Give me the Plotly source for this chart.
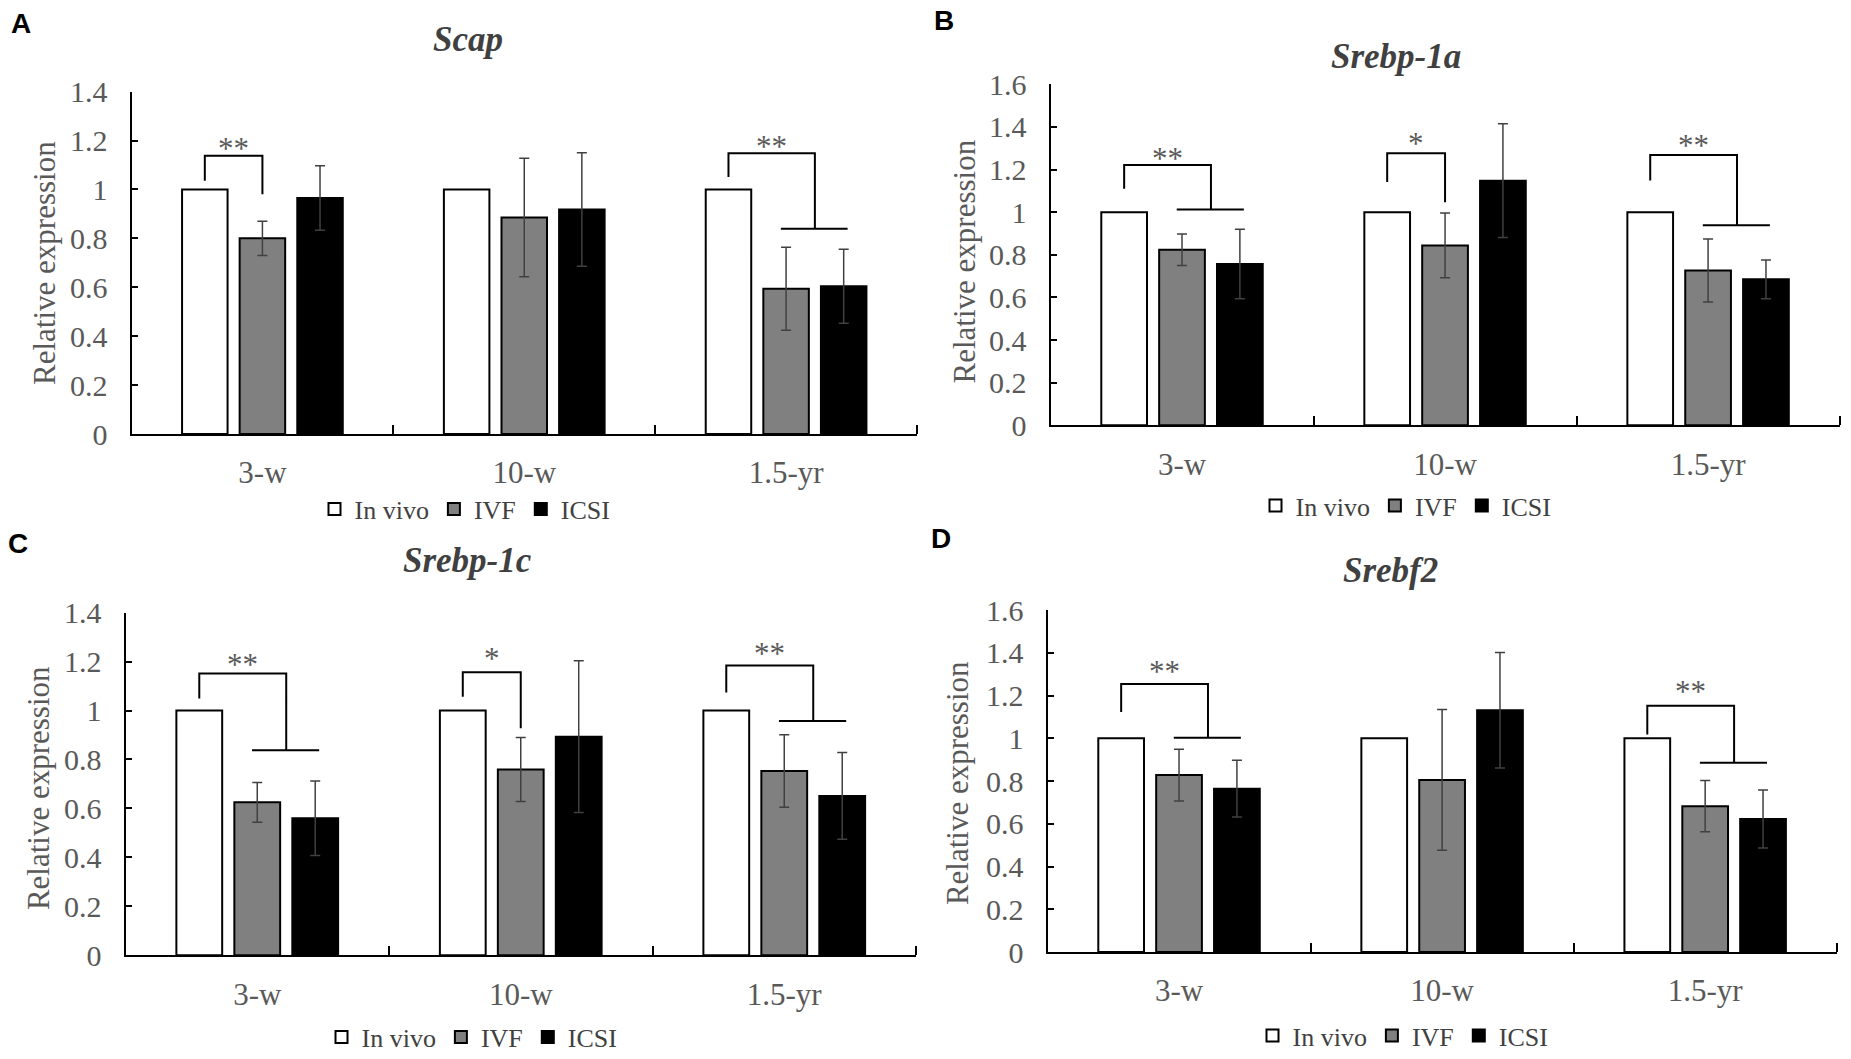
import plotly.graph_objects as go

# ---- data ---------------------------------------------------------------
categories = ["3-w", "10-w", "1.5-yr"]
groups = ["In vivo", "IVF", "ICSI"]

ticks_14 = [0, 0.2, 0.4, 0.6, 0.8, 1, 1.2, 1.4]
ticks_16 = [0, 0.2, 0.4, 0.6, 0.8, 1, 1.2, 1.4, 1.6]

# A: Scap
scap_in_vivo = [1, 1, 1]
scap_ivf = [0.80, 0.885, 0.594]
scap_ivf_err = [0.07, 0.242, 0.17]
scap_icsi = [0.965, 0.918, 0.604]
scap_icsi_err = [0.132, 0.232, 0.151]

# B: Srebp-1a
srebp1a_in_vivo = [1, 1, 1]
srebp1a_ivf = [0.824, 0.844, 0.726]
srebp1a_ivf_err = [0.074, 0.152, 0.148]
srebp1a_icsi = [0.757, 1.148, 0.685]
srebp1a_icsi_err = [0.163, 0.267, 0.091]

# C: Srebp-1c
srebp1c_in_vivo = [1, 1, 1]
srebp1c_ivf = [0.625, 0.759, 0.753]
srebp1c_ivf_err = [0.081, 0.131, 0.148]
srebp1c_icsi = [0.56, 0.893, 0.651]
srebp1c_icsi_err = [0.152, 0.31, 0.177]

# D: Srebf2
srebf2_in_vivo = [1, 1, 1]
srebf2_ivf = [0.828, 0.805, 0.682]
srebf2_ivf_err = [0.121, 0.329, 0.12]
srebf2_icsi = [0.764, 1.131, 0.622]
srebf2_icsi_err = [0.133, 0.27, 0.136]

# significance brackets: (category, label, label y, top, left leg end, right leg end, compared to)
scap_sig = [(0, "**", 1.196, 1.138, 1.035, 0.98, "IVF"),
            (2, "**", 1.203, 1.148, 1.051, 0.839, "IVF+ICSI")]
srebp1a_sig = [(0, "**", 1.284, 1.221, 1.110, 1.012, "IVF+ICSI"),
               (1, "*", 1.355, 1.276, 1.142, 1.047, "IVF"),
               (2, "**", 1.347, 1.268, 1.149, 0.939, "IVF+ICSI")]
srebp1c_sig = [(0, "**", 1.217, 1.151, 1.049, 0.838, "IVF+ICSI"),
               (1, "*", 1.242, 1.156, 1.056, 0.928, "IVF"),
               (2, "**", 1.262, 1.184, 1.074, 0.957, "IVF+ICSI")]
srebf2_sig = [(0, "**", 1.344, 1.254, 1.123, 1.002, "IVF+ICSI"),
              (2, "**", 1.25, 1.152, 1.018, 0.885, "IVF+ICSI")]

# ---- figure layout --------------------------------------------------------
W, H = 1851, 1059
SERIF = "Liberation Serif"
SANS = "Liberation Sans"
TEXT_GREY = "#595959"
BARGAP = 0.34
SLOT = (1 - BARGAP) / 3
FILLS = ["white", "#808080", "black"]


def px(x):
    return x / W


def py(y):
    return 1 - y / H


panels = [
    dict(letter="A", gene="Scap", ticks=ticks_14,
         means=[scap_in_vivo, scap_ivf, scap_icsi],
         errs=[None, scap_ivf_err, scap_icsi_err], sig=scap_sig,
         box=(131.5, 917, 91.6, 434), letter_xy=(21, 24), title_xy=(468, 40),
         ytitle_xy=(44, 263), legend_xy=(465, 509)),
    dict(letter="B", gene="Srebp-1a", ticks=ticks_16,
         means=[srebp1a_in_vivo, srebp1a_ivf, srebp1a_icsi],
         errs=[None, srebp1a_ivf_err, srebp1a_icsi_err], sig=srebp1a_sig,
         box=(1050.5, 1839.6, 84.3, 425.3), letter_xy=(944, 20), title_xy=(1396, 57),
         ytitle_xy=(963.5, 262), legend_xy=(1406, 505.5)),
    dict(letter="C", gene="Srebp-1c", ticks=ticks_14,
         means=[srebp1c_in_vivo, srebp1c_ivf, srebp1c_icsi],
         errs=[None, srebp1c_ivf_err, srebp1c_icsi_err], sig=srebp1c_sig,
         box=(125.5, 916, 612.6, 955.3), letter_xy=(18, 543), title_xy=(468, 560),
         ytitle_xy=(38.5, 788.6), legend_xy=(472, 1037)),
    dict(letter="D", gene="Srebf2", ticks=ticks_16,
         means=[srebf2_in_vivo, srebf2_ivf, srebf2_icsi],
         errs=[None, srebf2_ivf_err, srebf2_icsi_err], sig=srebf2_sig,
         box=(1047.5, 1836.7, 610, 952), letter_xy=(941, 538), title_xy=(1390, 570),
         ytitle_xy=(957.6, 783.5), legend_xy=(1403, 1035.5)),
]

fig = go.Figure()
layout = dict(
    width=W, height=H, margin=dict(l=0, r=0, t=0, b=0, pad=0, autoexpand=False),
    paper_bgcolor="white", plot_bgcolor="white",
    barmode="group", bargap=BARGAP, bargroupgap=0.21,
    annotations=[], shapes=[],
)

for i, p in enumerate(panels):
    n = "" if i == 0 else str(i + 1)
    xref, yref = "x" + n, "y" + n
    legend_name = "legend" + n
    x0, x1, y0, y1 = p["box"]

    for g, name in enumerate(groups):
        err = p["errs"][g]
        fig.add_bar(
            x=[0, 1, 2], y=p["means"][g], name=name,
            xaxis=xref, yaxis=yref, legend=legend_name,
            marker=dict(color=FILLS[g], line=dict(color="black", width=2)),
            error_y=(dict(type="data", array=err, color="#404040", thickness=1.5, width=5)
                     if err is not None else dict(visible=False)),
        )

    layout["xaxis" + n] = dict(
        domain=[px(x0), px(x1)], anchor=yref, range=[-0.5, 2.5], automargin=False,
        tickmode="array", tickvals=[0, 1, 2], ticktext=categories, ticks="",
        showline=True, linecolor="black", linewidth=2, showgrid=False, zeroline=False,
        tickfont=dict(family=SERIF, size=31, color=TEXT_GREY), ticklabelstandoff=10,
        minor=dict(tickmode="array", tickvals=[0.5, 1.5, 2.5], ticks="inside",
                   ticklen=9, tickwidth=2, tickcolor="black", showgrid=False),
    )
    layout["yaxis" + n] = dict(
        domain=[py(y1), py(y0)], anchor=xref, range=[0, p["ticks"][-1]], automargin=False,
        tickmode="array", tickvals=p["ticks"], ticktext=[f"{v:g}" for v in p["ticks"]],
        ticks="inside", ticklen=6, tickwidth=2, tickcolor="black",
        showline=True, linecolor="black", linewidth=2, showgrid=False, zeroline=False,
        tickfont=dict(family=SERIF, size=30, color=TEXT_GREY), ticklabelstandoff=16,
    )
    layout[legend_name] = dict(
        orientation="h", x=px(p["legend_xy"][0]), y=py(p["legend_xy"][1]),
        xanchor="center", yanchor="middle", itemwidth=30, traceorder="normal",
        font=dict(family=SERIF, size=26, color="#404040"), bgcolor="rgba(0,0,0,0)",
    )

    # texts
    layout["annotations"] += [
        dict(text="<b>" + p["letter"] + "</b>", xref="paper", yref="paper",
             x=px(p["letter_xy"][0]), y=py(p["letter_xy"][1]),
             xanchor="center", yanchor="middle", showarrow=False,
             font=dict(family=SANS, size=28, color="black")),
        dict(text="<b><i>" + p["gene"] + "</i></b>", xref="paper", yref="paper",
             x=px(p["title_xy"][0]), y=py(p["title_xy"][1]),
             xanchor="center", yanchor="middle", showarrow=False,
             font=dict(family=SERIF, size=35, color="#404040")),
        dict(text="Relative expression", xref="paper", yref="paper", textangle=-90,
             x=px(p["ytitle_xy"][0]), y=py(p["ytitle_xy"][1]),
             xanchor="center", yanchor="middle", showarrow=False,
             font=dict(family=SERIF, size=31, color=TEXT_GREY)),
    ]

    # significance brackets
    for cat, label, label_y, top, left_end, right_end, target in p["sig"]:
        left = cat - SLOT
        right = cat if target == "IVF" else cat + SLOT / 2
        layout["shapes"].append(dict(
            type="path", xref=xref, yref=yref,
            path=f"M {left},{left_end} L {left},{top} L {right},{top} L {right},{right_end}",
            line=dict(color="black", width=2),
        ))
        if target != "IVF":
            layout["shapes"].append(dict(
                type="line", xref=xref, yref=yref,
                x0=cat - 0.02, x1=cat + SLOT + 0.015, y0=right_end, y1=right_end,
                line=dict(color="black", width=2),
            ))
        layout["annotations"].append(dict(
            text=label, xref=xref, yref=yref, x=(left + right) / 2, y=label_y,
            xanchor="center", yanchor="middle", yshift=-7, showarrow=False,
            font=dict(family=SERIF, size=31, color=TEXT_GREY),
        ))

fig.update_layout(**layout)
# the page's default 8px body margin would shift the whole figure
fig.write_html("out.html", config={"displayModeBar": False},
               post_script="document.body.style.margin = '0';")
